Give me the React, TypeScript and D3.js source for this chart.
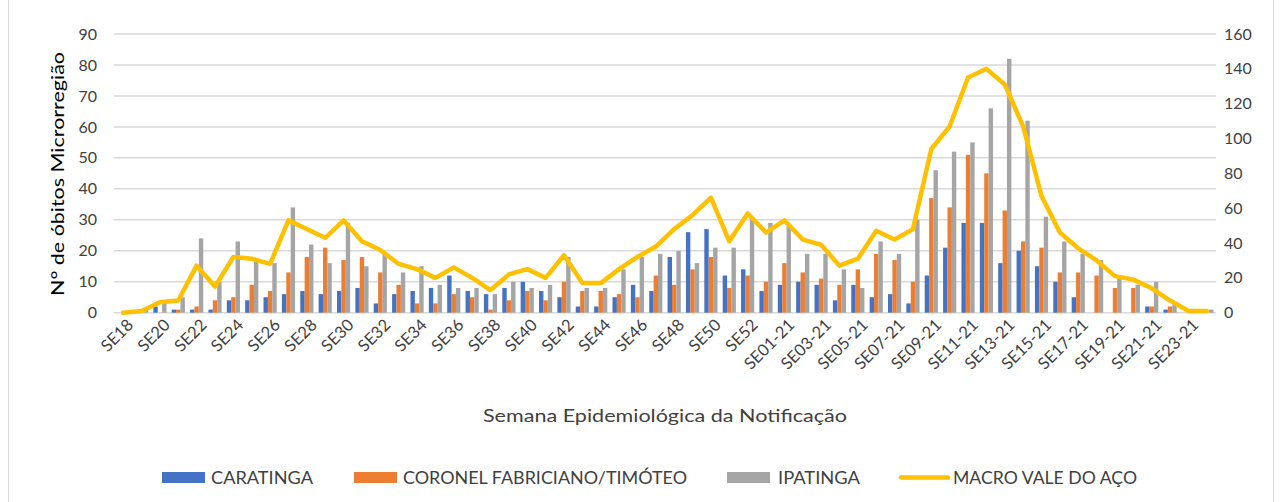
import * as d3 from 'd3';

// Semanas epidemiológicas (2020 -> 2021)
const weeks = [
  'SE18', 'SE19', 'SE20', 'SE21', 'SE22', 'SE23', 'SE24', 'SE25', 'SE26', 'SE27',
  'SE28', 'SE29', 'SE30', 'SE31', 'SE32', 'SE33', 'SE34', 'SE35', 'SE36', 'SE37',
  'SE38', 'SE39', 'SE40', 'SE41', 'SE42', 'SE43', 'SE44', 'SE45', 'SE46', 'SE47',
  'SE48', 'SE49', 'SE50', 'SE51', 'SE52', 'SE53', 'SE01-21', 'SE02-21', 'SE03-21', 'SE04-21',
  'SE05-21', 'SE06-21', 'SE07-21', 'SE08-21', 'SE09-21', 'SE10-21', 'SE11-21', 'SE12-21', 'SE13-21', 'SE14-21',
  'SE15-21', 'SE16-21', 'SE17-21', 'SE18-21', 'SE19-21', 'SE20-21', 'SE21-21', 'SE22-21', 'SE23-21', 'SE24-21',
];

const caratinga = [
  0, 0, 2, 1, 1, 1, 4, 4, 5, 6,
  7, 6, 7, 8, 3, 6, 7, 8, 12, 7,
  6, 8, 10, 7, 5, 2, 2, 5, 9, 7,
  18, 26, 27, 12, 14, 7, 9, 10, 9, 4,
  9, 5, 6, 3, 12, 21, 29, 29, 16, 20,
  15, 10, 5, 0, 0, 0, 2, 1, 0, 0,
];

const coronelFabriciano = [
  0, 0, 0, 1, 2, 4, 5, 9, 7, 13,
  18, 21, 17, 18, 13, 9, 3, 3, 6, 5,
  1, 4, 7, 4, 10, 7, 7, 6, 5, 12,
  9, 14, 18, 8, 12, 10, 16, 13, 11, 9,
  14, 19, 17, 10, 37, 34, 51, 45, 33, 23,
  21, 13, 13, 12, 8, 8, 2, 2, 0, 0,
];

const ipatinga = [
  0, 1, 4, 5, 24, 10, 23, 17, 16, 34,
  22, 16, 29, 15, 19, 13, 15, 9, 8, 8,
  6, 10, 8, 9, 18, 8, 8, 14, 18, 19,
  20, 16, 21, 21, 31, 29, 28, 19, 19, 14,
  8, 23, 19, 30, 46, 52, 55, 66, 82, 62,
  31, 23, 19, 17, 11, 9, 10, 3, 1, 1,
];

// Macro Vale do Aço (eixo secundário)
const macroValeDoAco = [
  0, 1, 6, 7, 27, 15, 32, 31, 28, 53,
  48, 43, 53, 41, 36, 28, 25, 20, 26, 20,
  13, 22, 25, 20, 33, 17, 17, 25, 32, 38,
  48, 56, 66, 41, 57, 46, 53, 42, 39, 27,
  31, 47, 42, 48, 94, 107, 135, 140, 131, 107,
  67, 46, 37, 30, 21, 19, 14, 7, 1, 1,
];

const leftTicks = [0, 10, 20, 30, 40, 50, 60, 70, 80, 90];
const rightTicks = [0, 20, 40, 60, 80, 100, 120, 140, 160];

const barSeries = [
  { name: 'CARATINGA', values: caratinga, color: '#4472C4' },
  { name: 'CORONEL FABRICIANO/TIMÓTEO', values: coronelFabriciano, color: '#ED7D31' },
  { name: 'IPATINGA', values: ipatinga, color: '#A5A5A5' },
];

const FONT = 'Lato, "Open Sans", sans-serif';
const TEXT = '#404040';

export default function App() {
  const width = 1284;
  const height = 502;
  const plot = { left: 114, right: 1216, top: 34, bottom: 312.7 };

  const x = d3.scaleBand<string>().domain(weeks).range([plot.left, plot.right]);
  const bw = x.bandwidth();
  const barW = bw / 4.18;
  const groupOffset = (bw - barW * 3) / 2;

  const yLeft = d3.scaleLinear().domain([0, 90]).range([plot.bottom, plot.top]);
  const yRight = d3.scaleLinear().domain([0, 160]).range([plot.bottom, plot.top]);

  const line = d3
    .line<number>()
    .x((d, i) => (x(weeks[i]) as number) + bw / 2)
    .y((d) => yRight(d));

  // legend items (swatch x, text x, text width)
  const legend = [
    { name: 'CARATINGA', color: '#4472C4', sx: 162, tx: 211, tw: 102, kind: 'rect' },
    { name: 'CORONEL FABRICIANO/TIMÓTEO', color: '#ED7D31', sx: 354, tx: 403, tw: 284, kind: 'rect' },
    { name: 'IPATINGA', color: '#A5A5A5', sx: 727, tx: 778, tw: 82, kind: 'rect' },
    { name: 'MACRO VALE DO AÇO', color: '#FFC000', sx: 901, tx: 953, tw: 184, kind: 'line' },
  ];

  return (
    <svg
      width={width}
      height={height}
      style={{ position: 'absolute', left: 0, top: 0, background: '#fff' }}
      fontFamily={FONT}
    >
      <rect x={0} y={0} width={width} height={height} fill="#fff" />
      <line x1={8.5} x2={8.5} y1={0} y2={height} stroke="#d9d9d9" />
      <line x1={1273.5} x2={1273.5} y1={0} y2={height} stroke="#d9d9d9" />

      {/* gridlines */}
      {leftTicks.map((t) => (
        <line
          key={'g' + t}
          x1={plot.left}
          x2={plot.right}
          y1={yLeft(t)}
          y2={yLeft(t)}
          stroke="#d9d9d9"
          strokeWidth={1.5}
        />
      ))}

      {/* left axis labels */}
      {leftTicks.map((t) => (
        <text key={'l' + t} x={97} y={yLeft(t)} dy="0.35em" textAnchor="end" fontSize={16} fill={TEXT}>
          {t}
        </text>
      ))}

      {/* right axis labels */}
      {rightTicks.map((t) => (
        <text key={'r' + t} x={1224} y={yRight(t)} dy="0.35em" textAnchor="start" fontSize={16} fill={TEXT}>
          {t}
        </text>
      ))}

      {/* bars */}
      {barSeries.map((s, si) =>
        s.values.map((v, i) => (
          <rect
            key={s.name + i}
            x={(x(weeks[i]) as number) + groupOffset + si * barW}
            y={yLeft(v)}
            width={barW}
            height={plot.bottom - yLeft(v)}
            fill={s.color}
          />
        ))
      )}

      {/* macro line */}
      <path
        d={line(macroValeDoAco) || ''}
        fill="none"
        stroke="#FFC000"
        strokeWidth={4.5}
        strokeLinejoin="round"
        strokeLinecap="round"
      />

      {/* x tick labels, every other week */}
      {weeks.map((w, i) =>
        i % 2 === 0 ? (
          <text
            key={'x' + w}
            transform={`translate(${(x(w) as number) + bw / 2 + 7},${322}) rotate(-45)`}
            textAnchor="end"
            dy="0.35em"
            fontSize={16.5}
            fill={TEXT}
          >
            {w}
          </text>
        ) : null
      )}

      {/* axis titles */}
      <text
        transform="translate(58,174) rotate(-90)"
        textAnchor="middle"
        dy="0.35em"
        fontSize={18}
        fill="#000"
        textLength={244}
        lengthAdjust="spacingAndGlyphs"
      >
        N° de óbitos Microrregião
      </text>
      <text
        x={483}
        y={422}
        fontSize={17.5}
        fill={TEXT}
        textLength={364}
        lengthAdjust="spacingAndGlyphs"
      >
        Semana Epidemiológica da Notificação
      </text>

      {/* legend */}
      {legend.map((l) => (
        <g key={l.name}>
          {l.kind === 'rect' ? (
            <rect x={l.sx} y={472} width={43} height={11} fill={l.color} />
          ) : (
            <line x1={l.sx} x2={l.sx + 47} y1={477.5} y2={477.5} stroke={l.color} strokeWidth={4.5} strokeLinecap="round" />
          )}
          <text
            x={l.tx}
            y={483.5}
            fontSize={16.5}
            fill={TEXT}
            textLength={l.tw}
            lengthAdjust="spacingAndGlyphs"
          >
            {l.name}
          </text>
        </g>
      ))}
    </svg>
  );
}
